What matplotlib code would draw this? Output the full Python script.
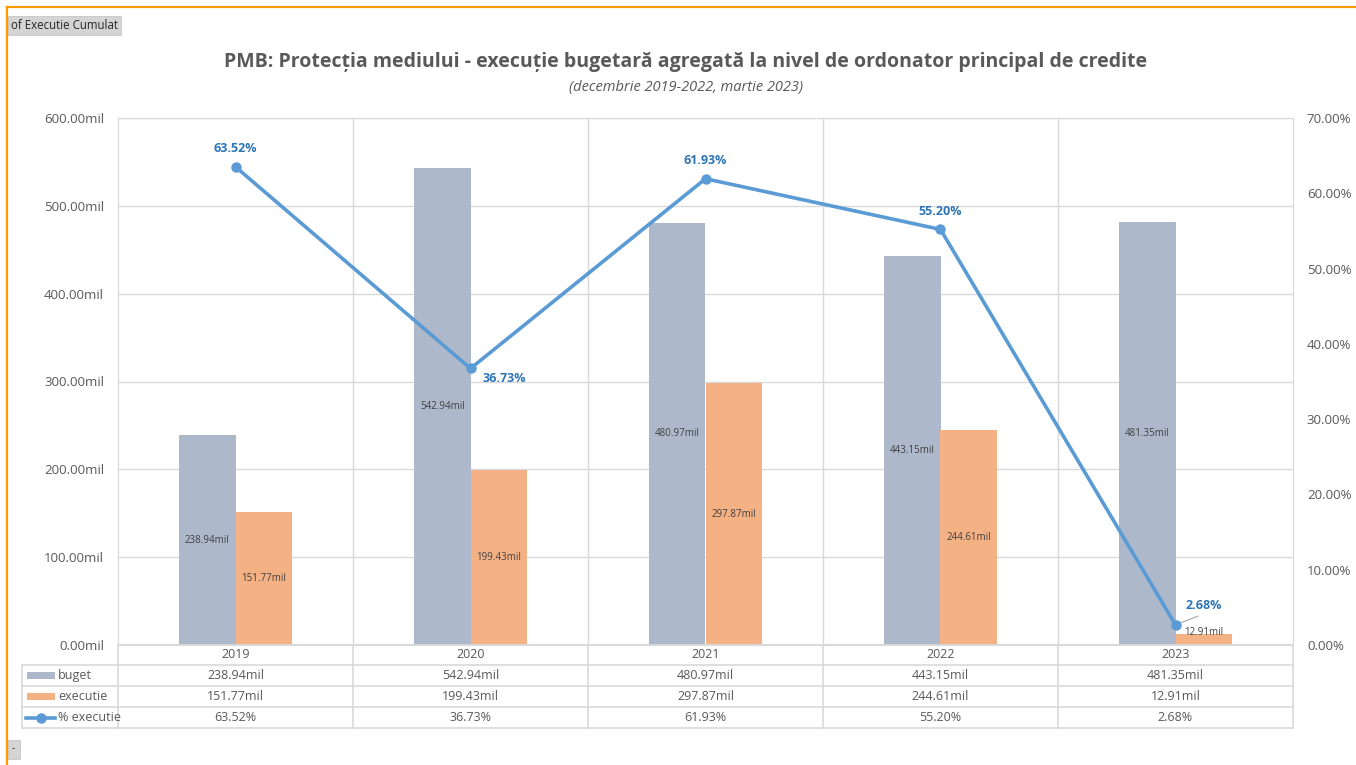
import numpy as np
import matplotlib.pyplot as plt
from matplotlib.lines import Line2D
from matplotlib.patches import Rectangle

plt.rcParams['font.family'] = ['Open Sans', 'DejaVu Sans']

# date
ani = ['2019', '2020', '2021', '2022', '2023']
buget = [238.94, 542.94, 480.97, 443.15, 481.35]
executie = [151.77, 199.43, 297.87, 244.61, 12.91]
pct = [63.52, 36.73, 61.93, 55.20, 2.68]
serii = ['buget', 'executie', '% executie']

c_buget = '#adb9ca'
c_exec = '#f4b183'
c_linie = '#5b9bd5'
c_grid = '#d9d9d9'
c_text = '#595959'

W, H = 1356, 765
fig = plt.figure(figsize=(W / 100, H / 100), dpi=100)

def fx(px): return px / W
def fy(py): return 1 - py / H

L, R, T, B = 118, 1293, 118, 645
ax = fig.add_axes([fx(L), fy(B), fx(R) - fx(L), fy(T) - fy(B)])
x = np.arange(len(ani))
w = 0.24
ax.bar(x - w / 2, buget, w, color=c_buget, zorder=2)
ax.bar(x + w / 2, executie, w, color=c_exec, zorder=2)
ax.set_xlim(-0.5, len(ani) - 0.5)
ax.set_ylim(0, 600)
ax.set_yticks(np.arange(0, 601, 100))
ax.set_yticklabels(['%.2fmil' % v for v in np.arange(0, 601, 100)])
ax.set_xticks([])
ax.tick_params(axis='y', length=0, labelsize=9.5, labelcolor=c_text, pad=10)
ax.grid(axis='y', color=c_grid, lw=1, zorder=0)
for b in np.arange(0.5, len(ani) - 0.5, 1):
    ax.axvline(b, color=c_grid, lw=1, zorder=0)
for s in ['left', 'right', 'top']:
    ax.spines[s].set_color(c_grid)
ax.spines['bottom'].set_color(c_grid)
ax.spines['bottom'].set_linewidth(1.5)

for i in range(len(ani)):
    ax.text(x[i] - w / 2, buget[i] / 2, '%.2fmil' % buget[i], ha='center', va='center',
            fontsize=7, color='#404040', zorder=4)
    ax.text(x[i] + w / 2, max(executie[i] / 2, 14), '%.2fmil' % executie[i], ha='center',
            va='center', fontsize=7, color='#404040', zorder=4)

ax2 = ax.twinx()
ax2.set_ylim(0, 70)
ax2.set_yticks(np.arange(0, 71, 10))
ax2.set_yticklabels(['%.2f%%' % v for v in np.arange(0, 71, 10)])
ax2.tick_params(axis='y', length=0, labelsize=9.5, labelcolor=c_text, pad=10)
for s in ax2.spines.values():
    s.set_visible(False)
ax2.plot(x, pct, color=c_linie, lw=2.6, marker='o', ms=6.5, zorder=5)

offs = [(0, 13), (24, -7), (0, 13), (0, 13), (20, 14)]
for i in range(len(ani)):
    ax2.annotate('%.2f%%' % pct[i], (x[i], pct[i]), xytext=offs[i], textcoords='offset points',
                 ha='center', va='center', fontsize=9, fontweight='bold', color='#2e75b6')
ax2.annotate('', (x[4], pct[4]), xytext=(18, 7), textcoords='offset points',
             arrowprops=dict(arrowstyle='-', color='#a6a6a6', lw=0.8))

# tabel de date
rows = [665, 686, 707, 728]
bounds = [L + (R - L) * k / len(ani) for k in range(len(ani) + 1)]
for yy in rows:
    fig.add_artist(Line2D([fx(22), fx(R)], [fy(yy), fy(yy)], color=c_grid, lw=1.2))
for xx in bounds:
    fig.add_artist(Line2D([fx(xx), fx(xx)], [fy(B), fy(728)], color=c_grid, lw=1.2))
fig.add_artist(Line2D([fx(22), fx(22)], [fy(665), fy(728)], color=c_grid, lw=1.2))

for i in range(len(ani)):
    cx = fx((bounds[i] + bounds[i + 1]) / 2)
    fig.text(cx, fy(655), ani[i], ha='center', va='center', fontsize=9, color=c_text)
    fig.text(cx, fy(675.5), '%.2fmil' % buget[i], ha='center', va='center', fontsize=9, color=c_text)
    fig.text(cx, fy(696.5), '%.2fmil' % executie[i], ha='center', va='center', fontsize=9, color=c_text)
    fig.text(cx, fy(717.5), '%.2f%%' % pct[i], ha='center', va='center', fontsize=9, color=c_text)

ry = [675.5, 696.5, 717.5]
fig.add_artist(Rectangle((fx(27), fy(ry[0] + 3.5)), fx(55) - fx(27), fy(ry[0] - 3.5) - fy(ry[0] + 3.5),
                         color=c_buget, lw=0))
fig.add_artist(Rectangle((fx(27), fy(ry[1] + 3.5)), fx(55) - fx(27), fy(ry[1] - 3.5) - fy(ry[1] + 3.5),
                         color=c_exec, lw=0))
fig.add_artist(Line2D([fx(26), fx(55)], [fy(ry[2]), fy(ry[2])], color=c_linie, lw=2.6))
fig.add_artist(Line2D([fx(40.5)], [fy(ry[2])], color=c_linie, marker='o', ms=6.5))
for k in range(3):
    fig.text(fx(58), fy(ry[k]), serii[k], ha='left', va='center', fontsize=9, color=c_text)

# titlu
fig.text(fx(686), fy(62), 'PMB: Protecția mediului - execuție bugetară agregată la nivel de ordonator principal de credite',
         ha='center', va='center', fontsize=14, fontweight='bold', color=c_text)
fig.text(fx(686), fy(87), '(decembrie 2019-2022, martie 2023)', ha='center', va='center',
         fontsize=10.5, style='italic', color=c_text)

# butoane si chenar
fig.add_artist(Rectangle((fx(8), fy(35)), fx(121) - fx(8), fy(16) - fy(35), facecolor='#d4d4d4',
                         edgecolor='#c0c0c0', lw=0.5))
fig.text(fx(11), fy(25.5), 'of Executie Cumulat', ha='left', va='center', fontsize=8.3, color='#262626')
fig.add_artist(Rectangle((fx(8), fy(759)), fx(20) - fx(8), fy(740) - fy(759), facecolor='#d4d4d4',
                         edgecolor='#c0c0c0', lw=0.5))
fig.text(fx(13), fy(749), '-', ha='center', va='center', fontsize=7, color='#262626')
fig.add_artist(Line2D([fx(7), fx(W)], [fy(7), fy(7)], color='#ff9900', lw=1.6))
fig.add_artist(Line2D([fx(7), fx(7)], [fy(7), fy(H)], color='#ff9900', lw=1.6))

fig.savefig('out.png', dpi=100, facecolor='white')
